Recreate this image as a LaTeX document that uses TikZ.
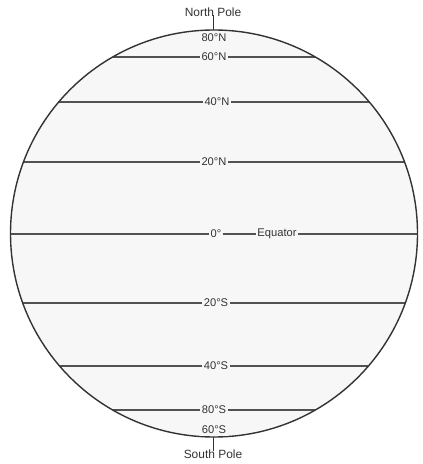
\documentclass[tikz,border=0pt]{standalone}
\usepackage{fontspec}
\setmainfont{Liberation Sans}
\definecolor{ink}{HTML}{333333}
\definecolor{globe}{HTML}{F7F7F7}
\begin{document}
\begin{tikzpicture}[x=1bp,y=-1bp,
  lat/.style={draw=ink!85,line width=1.1bp},
  lab/.style={fill=globe,inner sep=1.8bp,text=ink,font=\fontsize{11.2}{13}\selectfont},
  pole/.style={inner sep=0pt,text=ink,font=\fontsize{12}{14}\selectfont}]
\useasboundingbox (0,0) rectangle (422,464);
\coordinate (c) at (214,233.5);
\fill[globe] (c) circle (203.5);
\begin{scope}
\clip (c) circle (203.5);
\foreach \y in {57,102,162,234,303,366,410}
  \draw[lat] (0,\y) -- (422,\y);
\end{scope}
\draw[ink,line width=1.4bp] (c) circle (203.5);
% labels
\node[lab] (n80) at (214,38) {80°N};
\node[lab] (n60) at (214,57) {60°N};
\node[lab] (n40) at (217,102) {40°N};
\node[lab] (n20) at (214,162) {20°N};
\node[lab] (eq0) at (216,234) {0°};
\node[lab] (eqt) at (277,234) {Equator};
\node[lab] (s20) at (216,303) {20°S};
\node[lab] (s40) at (216,366) {40°S};
\node[lab] (s80) at (214,410) {80°S};
\node[lab] (s60) at (214,430) {60°S};
% poles
\node[pole] (np) at (213,12) {North Pole};
\node[pole] (sp) at (213,454) {South Pole};
\coordinate (npt) at (213,30);
\coordinate (spt) at (213,437);
\draw[ink,line width=1bp] (np.south) ++(0,-2) -- (npt);
\draw[ink,line width=1bp] (sp.north) ++(0,2) -- (spt);
\end{tikzpicture}
\end{document}
